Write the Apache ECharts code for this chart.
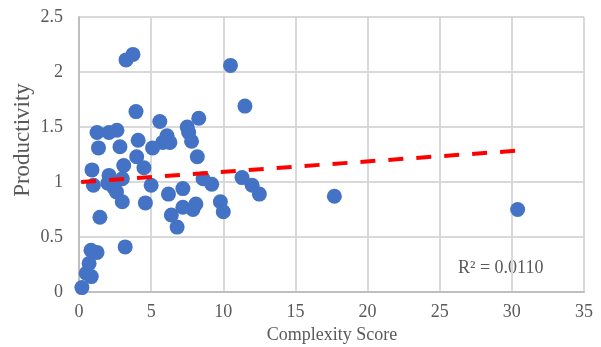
<!DOCTYPE html>
<html>
<head>
<meta charset="utf-8">
<script src="https://cdn.jsdelivr.net/npm/echarts@6/dist/echarts.min.js"></script>
<style>html,body{margin:0;padding:0;background:#fff;}#c{width:601px;height:347px;}</style>
</head>
<body>
<div id="c"></div>
<script>
const complexity = [0.2,0.5,0.85,0.7,0.83,1.25,3.2,1.45,0.9,1.0,1.25,2.08,2.63,1.35,2.84,4.1,3.95,3.26,3.74,4.0,3.1,4.5,2.08,3.0,2.0,2.4,2.6,3.0,4.6,5.0,5.1,5.6,5.8,6.1,6.3,7.5,7.6,7.8,8.3,8.2,10.5,11.5,6.2,7.2,6.4,6.8,7.2,7.9,8.1,8.6,9.2,9.8,10.0,11.3,12.0,12.5,17.7,30.4];
const productivity = [0.04,0.17,0.14,0.26,0.38,0.36,0.41,0.68,1.11,0.97,1.45,1.45,1.47,1.31,1.32,1.38,1.64,2.11,2.16,1.23,1.15,1.13,1.06,1.03,0.99,0.95,0.91,0.82,0.81,0.97,1.31,1.55,1.36,1.42,1.36,1.50,1.45,1.37,1.58,1.23,2.06,1.69,0.89,0.94,0.70,0.59,0.77,0.75,0.80,1.03,0.98,0.82,0.73,1.04,0.97,0.89,0.87,0.75];
const trendX = [0.15, 30.4];
const trendY = [1.0, 1.285];
const xTicks = [0,5,10,15,20,25,30,35];
const yTicks = [0,0.5,1,1.5,2,2.5];
const r2Label = 'R² = 0.0110';
const xTitle = 'Complexity Score';
const yTitle = 'Productivity';

const font = '"Liberation Serif", "Times New Roman", serif';
const chart = echarts.init(document.getElementById('c'), null, {renderer:'canvas'});
chart.setOption({
  animation:false,
  backgroundColor:'#fff',
  grid:{left:79,right:17,top:17,bottom:55,containLabel:false,outerBoundsMode:'none'},
  xAxis:{
    type:'value', min:xTicks[0], max:xTicks[xTicks.length-1], interval:5,
    axisLine:{show:true,lineStyle:{color:'#BFBFBF',width:2}},
    axisTick:{show:false},
    axisLabel:{fontFamily:font,fontSize:18,color:'#595959',margin:11},
    splitLine:{show:true,lineStyle:{color:'#D9D9D9',width:2}}
  },
  yAxis:{
    type:'value', min:yTicks[0], max:yTicks[yTicks.length-1], interval:0.5,
    axisLine:{show:true,lineStyle:{color:'#BFBFBF',width:2}},
    axisTick:{show:false},
    axisLabel:{fontFamily:font,fontSize:18,color:'#595959',margin:16},
    splitLine:{show:true,lineStyle:{color:'#D9D9D9',width:2}}
  },
  series:[
    {type:'scatter', data:complexity.map((x,i)=>[x,productivity[i]]),
     symbol:'circle', symbolSize:15, itemStyle:{color:'#4472C4',opacity:1}, z:2},
    {type:'line', data:trendX.map((x,i)=>[x,trendY[i]]), showSymbol:false, symbol:'none',
     lineStyle:{color:'#FF0000',width:4,type:[15,13]}, z:3}
  ],
  graphic:[
    {type:'text', x:458, y:268,
     style:{text:r2Label, font:'18px '+font, fill:'#595959', textVerticalAlign:'middle', verticalAlign:'middle'}},
    {type:'text', x:332, y:335,
     style:{text:xTitle, font:'18px '+font, fill:'#595959', align:'center', textAlign:'center', verticalAlign:'middle', textVerticalAlign:'middle'}},
    {type:'text', x:23, y:140, rotation:Math.PI/2,
     style:{text:yTitle, font:'23px '+font, fill:'#595959', align:'center', textAlign:'center', verticalAlign:'middle', textVerticalAlign:'middle'}}
  ]
});
</script>
</body>
</html>
